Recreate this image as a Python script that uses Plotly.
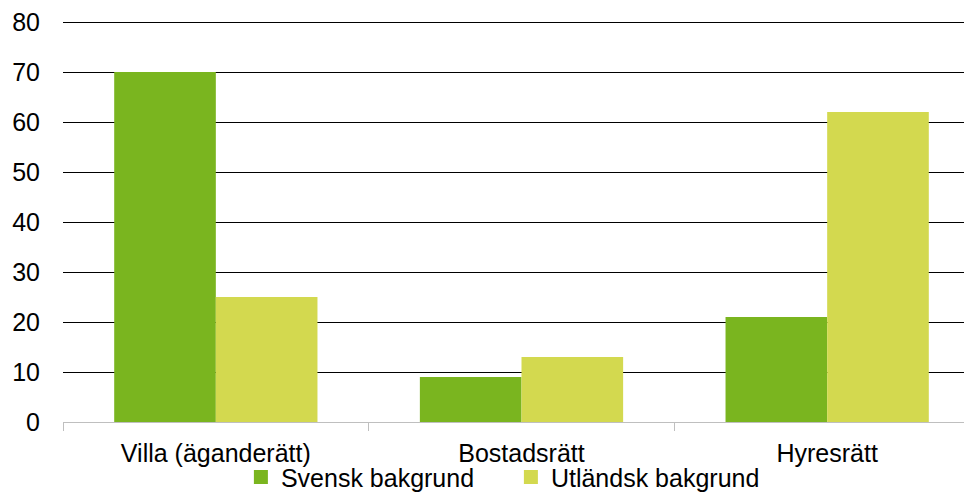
import plotly.graph_objects as go

categories = ["Villa (äganderätt)", "Bostadsrätt", "Hyresrätt"]
svensk = [70, 9, 21]
utlandsk = [25, 13, 62]
y_ticks = [0, 10, 20, 30, 40, 50, 60, 70, 80]
series_names = ["Svensk bakgrund", "Utländsk bakgrund"]
colors = ["#7AB51F", "#D3D94F"]

fig = go.Figure()
for name, vals, col in zip(series_names, [svensk, utlandsk], colors):
    fig.add_trace(go.Bar(name=name, x=categories, y=vals, showlegend=False,
                         marker=dict(color=col, line=dict(width=0))))
# legend entries with larger square swatches
for name, col in zip(series_names, colors):
    fig.add_trace(go.Scatter(name=name, x=[None], y=[None], mode="markers",
                             marker=dict(symbol="square", size=14, color=col),
                             showlegend=True))

font = "Liberation Sans, Arial, sans-serif"
fig.update_layout(
    width=972, height=494,
    margin=dict(l=55, r=0, t=12, b=80, autoexpand=False),
    paper_bgcolor="white", plot_bgcolor="white",
    barmode="group", bargap=0.335, bargroupgap=0,
    font=dict(family=font, size=25, color="#000"),
    showlegend=True,
    legend=dict(orientation="h", x=0.194, xanchor="left", y=-0.080, yanchor="top",
                font=dict(size=25), itemwidth=30, traceorder="normal",
                entrywidth=225, entrywidthmode="pixels",
                bgcolor="rgba(0,0,0,0)"),
)
fig.update_xaxes(
    type="category", range=[-0.5, 2.5], automargin=False,
    showline=True, linecolor="#BFBFBF", linewidth=1,
    ticks="outside", tickson="boundaries", ticklen=8, tickcolor="#BFBFBF",
    showgrid=False, tickfont=dict(size=25), ticklabelstandoff=9,
    ticklabeloverflow="allow",
)
fig.update_yaxes(
    range=[0, 80.4], tickvals=y_ticks, showgrid=True, gridcolor="#000000", gridwidth=1,
    zeroline=True, zerolinecolor="#BFBFBF", zerolinewidth=1, automargin=False,
    tickfont=dict(size=25), ticks="", ticklabelstandoff=22,
    ticklabeloverflow="allow",
)
fig.write_html("out.html")
